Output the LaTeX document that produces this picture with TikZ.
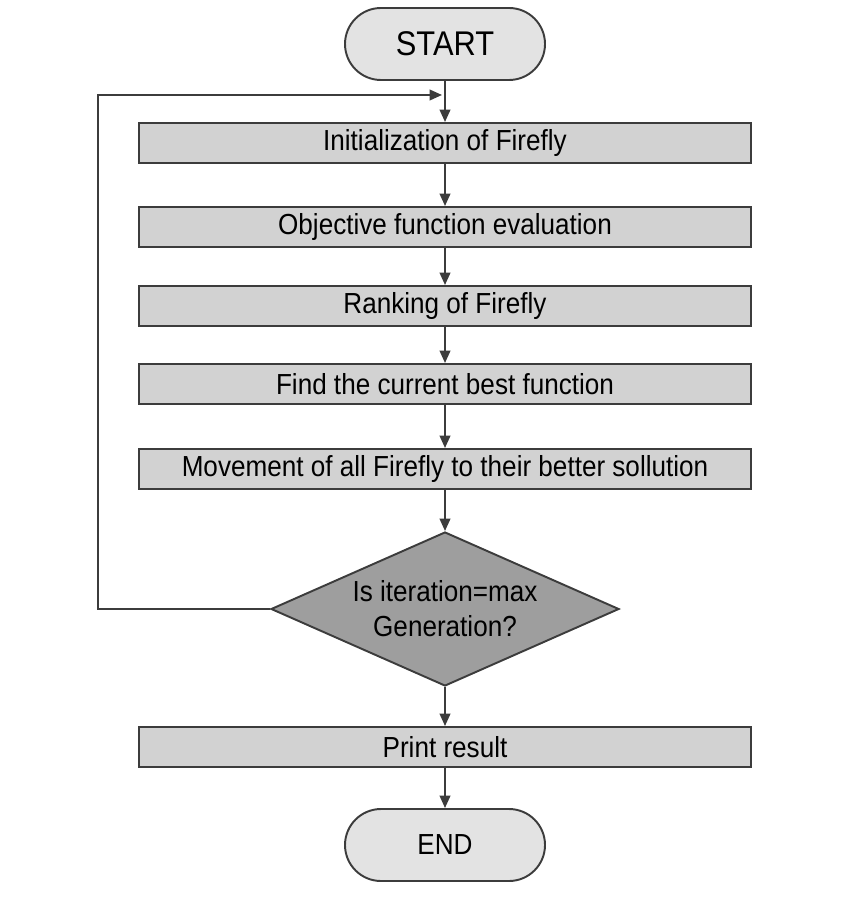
\documentclass[tikz,border=0pt]{standalone}
\usepackage{fontspec}
\setmainfont{Liberation Sans}
\newfontfamily\myfont[FakeStretch=0.9]{Liberation Sans}
\usetikzlibrary{shapes.geometric,arrows.meta}

\definecolor{myline}{HTML}{3C3C3C}
\definecolor{myboxfill}{HTML}{D2D2D2}
\definecolor{myendfill}{HTML}{E3E3E3}
\definecolor{mydecfill}{HTML}{9E9E9E}

\begin{document}
\begin{tikzpicture}

\tikzstyle{mybox}=[
  rectangle,
  draw=myline,
  line width=1.1pt,
  fill=myboxfill,
  minimum width=12.24cm,
  minimum height=0.8cm,
  inner sep=0pt,
  font=\myfont\fontsize{16.5}{20}\selectfont]

\tikzstyle{myterminal}=[
  rectangle,
  rounded corners=0.72cm,
  draw=myline,
  line width=1.1pt,
  fill=myendfill,
  minimum width=4cm,
  minimum height=1.44cm,
  inner sep=0pt]

\tikzstyle{mydecision}=[
  diamond,
  aspect=2.26,
  draw=myline,
  line width=1.1pt,
  fill=mydecfill,
  minimum width=6.96cm,
  minimum height=3.08cm,
  inner sep=0pt,
  align=center,
  font=\myfont\fontsize{16.5}{20}\selectfont]

\tikzstyle{myarrow}=[
  draw=myline,
  line width=1.1pt,
  -{Triangle[length=7pt,width=6pt]}]

\useasboundingbox (0,0) rectangle (17,-18.14);

% define points
\path
  (8.9,-0.88) coordinate(S)
  +(0,-1.98) coordinate(P1)
  +(0,-3.66) coordinate(P2)
  +(0,-5.24) coordinate(P3)
  +(0,-6.80) coordinate(P4)
  +(0,-8.50) coordinate(P5)
  +(0,-11.30) coordinate(D)
  +(0,-14.06) coordinate(P6)
  +(0,-16.02) coordinate(E)
  (1.96,-1.9) coordinate(L)
  ;

\node[myterminal, font=\myfont\fontsize{19.5}{24}\selectfont] (start) at (S) {START};
\node[mybox] (init) at (P1) {Initialization of Firefly};
\node[mybox] (eval) at (P2) {Objective function evaluation};
\node[mybox] (rank) at (P3) {Ranking of Firefly};
\node[mybox] (best) at (P4) {Find the current best function};
\node[mybox] (move) at (P5) {Movement of all Firefly to their better sollution};
\node[mydecision] (check) at (D) {Is iteration=max\\Generation?};
\node[mybox] (print) at (P6) {Print result};
\node[myterminal, font=\myfont\fontsize{16.5}{20}\selectfont] (end) at (E) {END};

\coordinate (J) at (start.south |- L);

% draw lines
\draw[myarrow] (start) -- (init);
\draw[myarrow] (init) -- (eval);
\draw[myarrow] (eval) -- (rank);
\draw[myarrow] (rank) -- (best);
\draw[myarrow] (best) -- (move);
\draw[myarrow] (move) -- (check);
\draw[myarrow] (check) -- (print);
\draw[myarrow] (print) -- (end);
\draw[myarrow] (check.west) -| (L) -- ([xshift=-0.06cm]J);

\end{tikzpicture}
\end{document}
